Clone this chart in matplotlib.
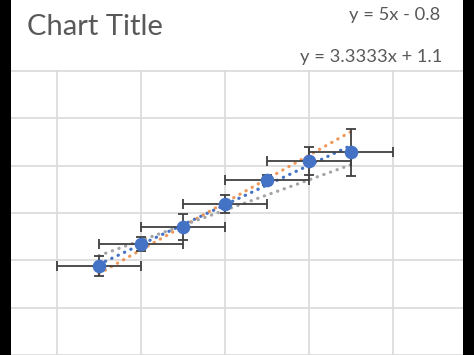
import matplotlib
matplotlib.use("Agg")
import matplotlib.pyplot as plt
import numpy as np
from matplotlib.patches import Rectangle

# ---- data ----
x_vals = [0.5, 1.0, 1.5, 2.0, 2.5, 3.0, 3.5]
y_vals = [4.4, 6.7, 8.5, 11.0, 13.5, 15.5, 16.4]
x_err = [0.5, 0.5, 0.5, 0.5, 0.5, 0.5, 0.5]
y_err = [1.05, 0.75, 1.4, 0.95, 0.5, 1.5, 2.5]

# max / min slope helper series (two points each, markers hidden)
max_x = [0.5, 3.5]
max_y = [3.6, 18.6]
min_x = [0.5, 3.5]
min_y = [5.5, 15.1]

title = "Chart Title"
eq_max = "y = 5x - 0.8"
eq_min = "y = 3.3333x + 1.1"

x_ticks = [0, 1, 2, 3, 4]
y_ticks = [-5, 0, 5, 10, 15, 20, 25]

# ---- figure ----
W, H = 474, 355
fig = plt.figure(figsize=(W / 100, H / 100), dpi=100, facecolor="white")

ax = fig.add_axes([11 / W, 0, (463 - 11) / W, (355 - 70) / H])
ax.set_facecolor("white")
ax.set_xlim((11 - 57) / 84, (463 - 57) / 84)
ax.set_ylim((309 - 355) / 9.52, (309 - 70) / 9.52)
ax.set_xticks(x_ticks)
ax.set_yticks(y_ticks)
ax.tick_params(length=0, labelbottom=False, labelleft=False)
for s in ax.spines.values():
    s.set_visible(False)
ax.grid(True, color="#D9D9D9", linewidth=1.2)
ax.set_axisbelow(True)

dot = (0, (0.1, 2.1))
# trendlines
xa = np.array(x_vals)
coef = np.polyfit(xa, np.array(y_vals), 1)
xt = np.array([min(x_vals), max(x_vals)])
ax.plot(xt, np.polyval(coef, xt), color="#4472C4", lw=2.3, ls=dot,
        dash_capstyle="round", zorder=2)
cmax = np.polyfit(max_x, max_y, 1)
ax.plot(xt, np.polyval(cmax, xt), color="#ED7D31", lw=2.3, ls=dot,
        dash_capstyle="round", zorder=2, alpha=0.8)
cmin = np.polyfit(min_x, min_y, 1)
ax.plot(xt, np.polyval(cmin, xt), color="#A5A5A5", lw=2.3, ls=dot,
        dash_capstyle="round", zorder=2)

# error bars + markers
ax.errorbar(x_vals, y_vals, xerr=x_err, yerr=y_err, fmt="none",
            ecolor="#404040", elinewidth=1.3, capsize=3.3, capthick=1.3, zorder=3)
ax.plot(x_vals, y_vals, "o", color="#4472C4", markersize=9.8,
        markeredgewidth=0, zorder=4)

font = "Lato"
fig.text(27 / W, 1 - 35 / H, title, fontsize=21, color="#595959",
         family=font, ha="left", va="baseline")
fig.text(440 / W, 1 - 20 / H, eq_max, fontsize=13.2, color="#595959",
         family=font, ha="right", va="baseline")
fig.text(442 / W, 1 - 62 / H, eq_min, fontsize=13.2, color="#595959",
         family=font, ha="right", va="baseline")

# black side bars of the screenshot
fig.add_artist(Rectangle((0, 0), 11 / W, 1, transform=fig.transFigure,
                         facecolor="black", edgecolor="none", zorder=10))
fig.add_artist(Rectangle((463 / W, 0), 11 / W, 1, transform=fig.transFigure,
                         facecolor="black", edgecolor="none", zorder=10))

fig.savefig("out.png", dpi=100)
